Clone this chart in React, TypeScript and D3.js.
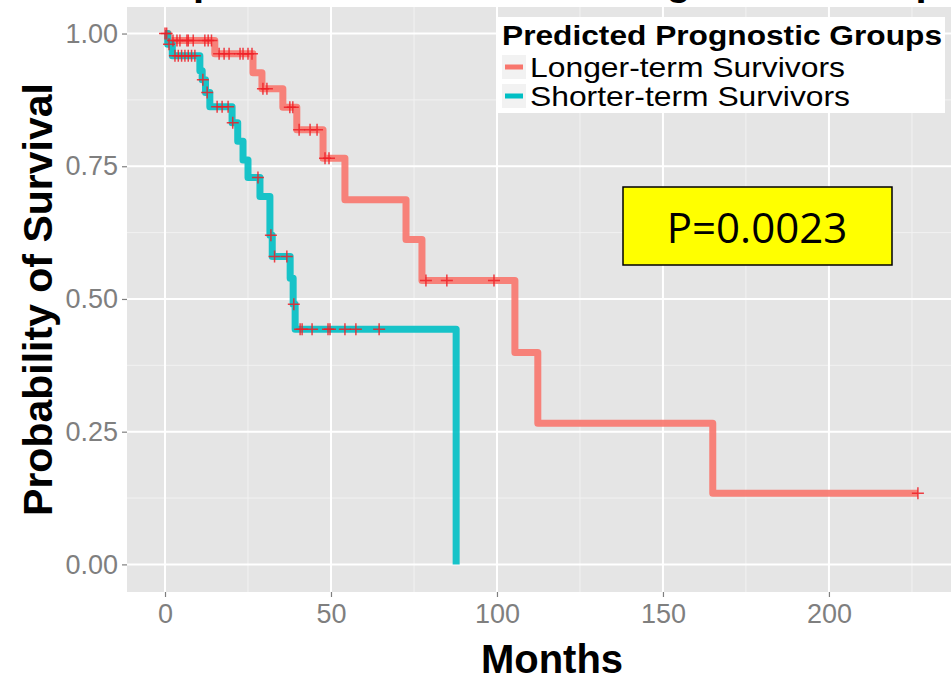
import React, { useEffect, useRef } from 'react';
import * as d3 from 'd3';

// step points: time (months) where survival drops, survival after the drop
const longerTimes = [0, 1, 15, 26.5, 29.2, 35.5, 39.7, 47.6, 54.2, 72.6, 77.4, 105.4, 112.3, 165];
const longerSurv = [1, 0.987, 0.962, 0.926, 0.896, 0.861, 0.819, 0.765, 0.687, 0.612, 0.535, 0.399, 0.266, 0.134];
const longerEnd = 226.8;
const longerCensor = [0, 0.5, 2.4, 3.6, 4.5, 6.6, 7, 8.5, 12, 13, 14, 16.3, 17.8, 19.3, 22.6, 23.5, 25, 26.2,
  29.5, 30.7, 37.6, 38.5, 40.4, 43.7, 45.8, 48.2, 49.4, 78.6, 84.9, 99.1, 226.8];

const shorterTimes = [0, 0.8, 2.2, 10.5, 11.2, 12.2, 13.5, 20.2, 21.9, 23.5, 25, 28.6, 31.6, 32.3, 37.7, 38.6, 39.2, 87.7];
const shorterSurv = [1, 0.98, 0.958, 0.93, 0.913, 0.889, 0.862, 0.832, 0.797, 0.762, 0.729, 0.693, 0.62, 0.58, 0.539, 0.49, 0.443, 0];
const shorterCensor = [1.2, 3, 4, 5, 6, 7, 8, 9, 11.4, 12.7, 15.7, 17.2, 19, 20.4, 28, 31.9, 33, 36.7, 38.8,
  40.7, 41.3, 44.3, 49.1, 49.7, 54.2, 57.5, 64.5];

const xTicks = [0, 50, 100, 150, 200];
const xMinor = [25, 75, 125, 175, 225];
const yTicks = [0, 0.25, 0.5, 0.75, 1];
const yMinor = [0.125, 0.375, 0.625, 0.875];

const groups = ['Longer-term Survivors', 'Shorter-term Survivors'];
const groupColors = ['#F8766D', '#00BFC4'];
const groupLabelWidths = [315, 320];

const font = '"Liberation Sans", Arial, sans-serif';

const stepData = (times: number[], surv: number[], end?: number) => {
  const pts = times.map((t, i) => ({ t, s: surv[i] }));
  if (end !== undefined) pts.push({ t: end, s: surv[surv.length - 1] });
  return pts;
};

const survAt = (times: number[], surv: number[], t: number) => {
  let s = surv[0];
  times.forEach((tt, i) => { if (tt <= t) s = surv[i]; });
  return s;
};

const App = () => {
  const svgRef = useRef<SVGSVGElement>(null);

  useEffect(() => {
    const svg = d3.select(svgRef.current)
      .attr('width', 951)
      .attr('height', 678);
    svg.selectAll('*').remove();

    const panel = { left: 127, right: 977, top: 7, bottom: 592 };

    const x = d3.scaleLinear().domain([-11.45, 244.6]).range([panel.left, panel.right]);
    const y = d3.scaleLinear().domain([-0.052, 1.05]).range([panel.bottom, panel.top]);

    // title, mostly cut off by the top edge
    svg.append('text')
      .attr('x', 552)
      .attr('y', -5)
      .attr('text-anchor', 'middle')
      .style('font-family', font)
      .style('font-size', '40px')
      .style('font-weight', 'bold')
      .text('Kaplan-Meier Curves of Prognostic Groups');

    svg.append('rect')
      .attr('x', panel.left)
      .attr('y', panel.top)
      .attr('width', panel.right - panel.left)
      .attr('height', panel.bottom - panel.top)
      .attr('fill', '#E5E5E5');

    const grid = svg.append('g');
    grid.selectAll('.xminor').data(xMinor).enter().append('line')
      .attr('x1', d => x(d)).attr('x2', d => x(d))
      .attr('y1', panel.top).attr('y2', panel.bottom)
      .attr('stroke', '#F2F2F2').attr('stroke-width', 1);
    grid.selectAll('.yminor').data(yMinor).enter().append('line')
      .attr('x1', panel.left).attr('x2', panel.right)
      .attr('y1', d => y(d)).attr('y2', d => y(d))
      .attr('stroke', '#F2F2F2').attr('stroke-width', 1);
    grid.selectAll('.xmajor').data(xTicks).enter().append('line')
      .attr('x1', d => x(d)).attr('x2', d => x(d))
      .attr('y1', panel.top).attr('y2', panel.bottom)
      .attr('stroke', '#FFFFFF').attr('stroke-width', 2);
    grid.selectAll('.ymajor').data(yTicks).enter().append('line')
      .attr('x1', panel.left).attr('x2', panel.right)
      .attr('y1', d => y(d)).attr('y2', d => y(d))
      .attr('stroke', '#FFFFFF').attr('stroke-width', 2);

    // axes
    const yAxis = svg.append('g')
      .attr('transform', `translate(${panel.left},0)`)
      .call(d3.axisLeft(y).tickValues(yTicks).tickFormat(d3.format('.2f')).tickSize(5).tickPadding(4));
    const xAxis = svg.append('g')
      .attr('transform', `translate(0,${panel.bottom})`)
      .call(d3.axisBottom(x).tickValues(xTicks).tickFormat(d3.format('d')).tickSize(5).tickPadding(7));
    [yAxis, xAxis].forEach(ax => {
      ax.select('.domain').remove();
      ax.selectAll('line').attr('stroke', '#7F7F7F').attr('stroke-width', 1.2);
      ax.selectAll('text')
        .attr('fill', '#7F7F7F')
        .style('font-family', font)
        .style('font-size', '27px');
    });

    const line = d3.line<{ t: number; s: number }>()
      .x(d => x(d.t))
      .y(d => y(d.s))
      .curve(d3.curveStepAfter);

    const curves = [
      { pts: stepData(longerTimes, longerSurv, longerEnd), color: groupColors[0] },
      { pts: stepData(shorterTimes, shorterSurv), color: groupColors[1] },
    ];
    const plot = svg.append('g');
    curves.forEach(c => {
      plot.append('path')
        .attr('d', line(c.pts))
        .attr('fill', 'none')
        .attr('stroke', c.color)
        .attr('stroke-opacity', 0.9)
        .attr('stroke-width', 7)
        .attr('stroke-linejoin', 'round');
    });

    const censors = [
      ...longerCensor.map(t => ({ t, s: survAt(longerTimes, longerSurv, t) })),
      ...shorterCensor.map(t => ({ t, s: survAt(shorterTimes, shorterSurv, t) })),
    ];
    const cs = 6;
    plot.selectAll('.censor').data(censors).enter().append('path')
      .attr('d', d => `M${x(d.t) - cs},${y(d.s)}H${x(d.t) + cs}M${x(d.t)},${y(d.s) - cs}V${y(d.s) + cs}`)
      .attr('stroke', '#EE2027')
      .attr('stroke-opacity', 0.85)
      .attr('stroke-width', 1.5)
      .attr('fill', 'none');

    // legend
    const legend = svg.append('g');
    legend.append('rect')
      .attr('x', 497).attr('y', 17).attr('width', 448).attr('height', 96)
      .attr('fill', '#FFFFFF');
    legend.append('text')
      .attr('x', 502).attr('y', 45)
      .attr('textLength', 440).attr('lengthAdjust', 'spacingAndGlyphs')
      .style('font-family', font).style('font-size', '28px').style('font-weight', 'bold')
      .text('Predicted Prognostic Groups');
    groups.forEach((g, i) => {
      const cy = 67 + i * 29;
      legend.append('rect')
        .attr('x', 502).attr('y', cy - 12).attr('width', 24).attr('height', 24)
        .attr('fill', '#F2F2F2');
      legend.append('line')
        .attr('x1', 505).attr('x2', 523).attr('y1', cy).attr('y2', cy)
        .attr('stroke', groupColors[i]).attr('stroke-width', 5);
      legend.append('text')
        .attr('x', 530).attr('y', cy + 10)
        .attr('textLength', groupLabelWidths[i]).attr('lengthAdjust', 'spacingAndGlyphs')
        .style('font-family', font).style('font-size', '28px')
        .text(g);
    });

    // p-value box
    svg.append('rect')
      .attr('x', 623).attr('y', 187).attr('width', 269).attr('height', 78)
      .attr('fill', '#FFFF00').attr('stroke', '#000000').attr('stroke-width', 1.5);
    svg.append('text')
      .attr('x', 757).attr('y', 243)
      .attr('text-anchor', 'middle')
      .style('font-family', '"Open Sans", "Liberation Sans", sans-serif')
      .style('font-size', '42px')
      .text('P=0.0023');

    // axis titles
    svg.append('text')
      .attr('x', 552).attr('y', 673)
      .attr('text-anchor', 'middle')
      .style('font-family', font).style('font-size', '40px').style('font-weight', 'bold')
      .text('Months');
    svg.append('text')
      .attr('transform', `translate(52,${(panel.top + panel.bottom) / 2}) rotate(-90)`)
      .attr('text-anchor', 'middle')
      .style('font-family', font).style('font-size', '41px').style('font-weight', 'bold')
      .text('Probability of Survival');
  }, []);

  return <svg ref={svgRef} style={{ position: 'absolute', left: 0, top: 0, display: 'block' }}></svg>;
};

export default App;
